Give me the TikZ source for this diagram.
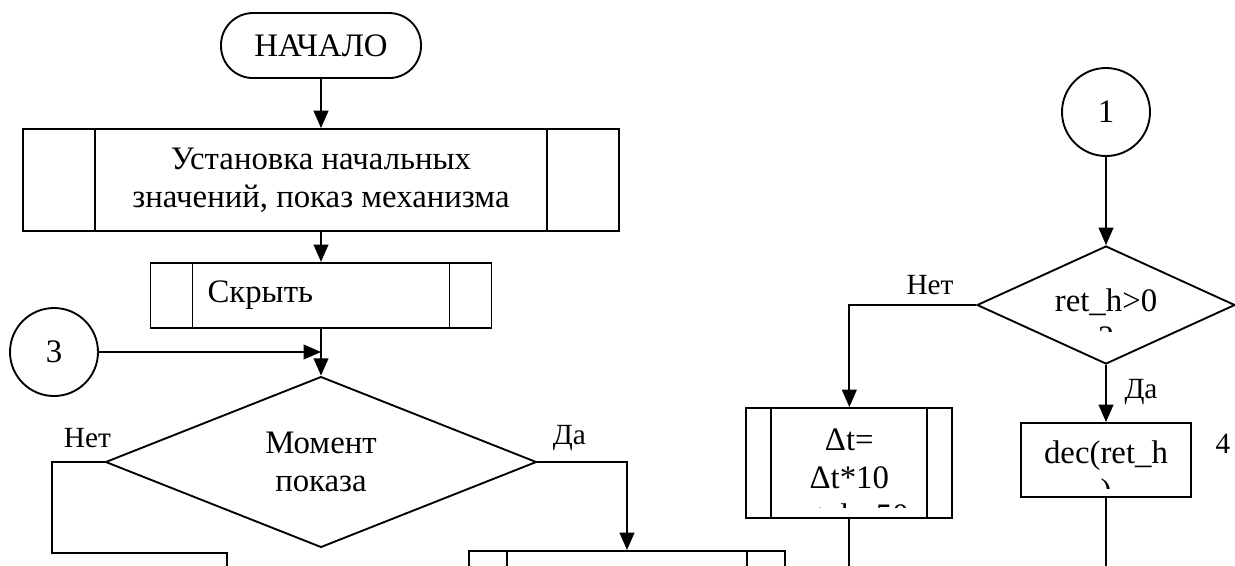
\documentclass[tikz,border=0pt]{standalone}
\usepackage{fontspec}
\setmainfont{Liberation Serif}
\usetikzlibrary{arrows.meta,shapes.geometric}

\tikzset{
  >={Triangle[length=0.26cm,width=0.22cm]},
  txt/.style={font=\fontsize{14}{16.1}\selectfont},
  lbl/.style={font=\fontsize{12.5}{14}\selectfont},
  term/.style={txt, draw, rounded corners=0.48cm, minimum width=3cm, minimum height=0.975cm},
  predef/.style={txt, draw, rectangle, path picture={
    \draw ([xshift=#1]path picture bounding box.north west) -- ([xshift=#1]path picture bounding box.south west)
          ([xshift=-#1]path picture bounding box.north east) -- ([xshift=-#1]path picture bounding box.south east);}},
  procbox/.style={txt, draw, rectangle},
  cond/.style={txt, draw, diamond, inner sep=0pt, align=center},
  conn/.style={txt, draw, circle, minimum size=1.32cm, inner sep=0pt},
}

\begin{document}
\begin{tikzpicture}[line width=0.8pt]

\useasboundingbox (0,0) rectangle (18.525,-8.475);
\clip (0,0) rectangle (18.525,-8.475);

% left column
\node[term] (start) at (4.815,-0.683) {НАЧАЛО};
\node[predef=1.08cm, minimum width=8.94cm, minimum height=1.53cm, align=center] (init) at (4.815,-2.7)
  {Установка начальных\\значений, показ механизма};
\node[predef=0.63cm, minimum height=0.975cm, text width=3.405cm, inner xsep=0.855cm, align=left] (hide) at (4.815,-4.43) {Скрыть};
\node[conn] (c3) at (0.81,-5.28) {3};
\node[cond, minimum width=6.465cm, minimum height=2.265cm] (moment) at (4.815,-6.93) {Момент\\показа};
\node[lbl] (no1) at (1.31,-6.57) {Нет};
\node[lbl] (yes1) at (8.54,-6.57) {Да};
\node[predef=0.57cm, minimum width=4.74cm, minimum height=1.5cm, anchor=north] (show) at (9.405,-8.25) {};
\coordinate (offL) at (3.405,-8.7);

\draw [->] (start) -- (init);
\draw [->] (init) -- (hide);
\draw [->] (c3) -- (c3 -| hide.south);
\draw [->] (hide) -- (moment);
\draw (moment.west) -| (0.78,-8.295) -| (offL);
\draw [->] (moment.east) -| (show.north);

% right column
\node[conn] (c1) at (16.59,-1.68) {1};
\node[cond, minimum width=3.87cm, minimum height=1.77cm] (chk) at (16.59,-4.575) {};
\node[lbl] (no2) at (13.95,-4.275) {Нет};
\node[lbl] (yes2) at (17.115,-5.88) {Да};
\node[predef=0.375cm, minimum width=3.09cm, minimum height=1.65cm] (dt) at (12.74,-6.945) {};
\node[procbox, minimum width=2.55cm, minimum height=1.11cm] (dec) at (16.59,-6.9) {};
\node[lbl] (num4) at (18.345,-6.66) {4};
\coordinate (offDt) at (12.74,-8.7);
\coordinate (offDec) at (16.59,-8.7);

% text cut off by the frames
\begin{scope}
  \clip (14.85,-3.9) rectangle (18.375,-4.965);
  \node[txt, align=center, anchor=north, inner sep=0pt] (chktxt) at (16.59,-4.31) {ret\_h>0\\?};
\end{scope}
\begin{scope}
  \clip (11.58,-6.12) rectangle (13.935,-7.605);
  \node[txt, align=center, anchor=north, inner sep=0pt] (dttxt) at (12.74,-6.42) {Δt=\\Δt*10\\ret\_h=50};
\end{scope}
\begin{scope}
  \clip (15.39,-6.345) rectangle (17.94,-7.32);
  \node[txt, align=center, anchor=north, inner sep=0pt] (dectxt) at (16.59,-6.6) {dec(ret\_h\\)};
\end{scope}

\draw [->] (c1) -- (chk);
\draw [->] (chk.west) -| (dt.north);
\draw [->] (chk.south) -- (dec.north);
\draw (dt.south) -- (offDt);
\draw (dec.south) -- (offDec);

\end{tikzpicture}
\end{document}
